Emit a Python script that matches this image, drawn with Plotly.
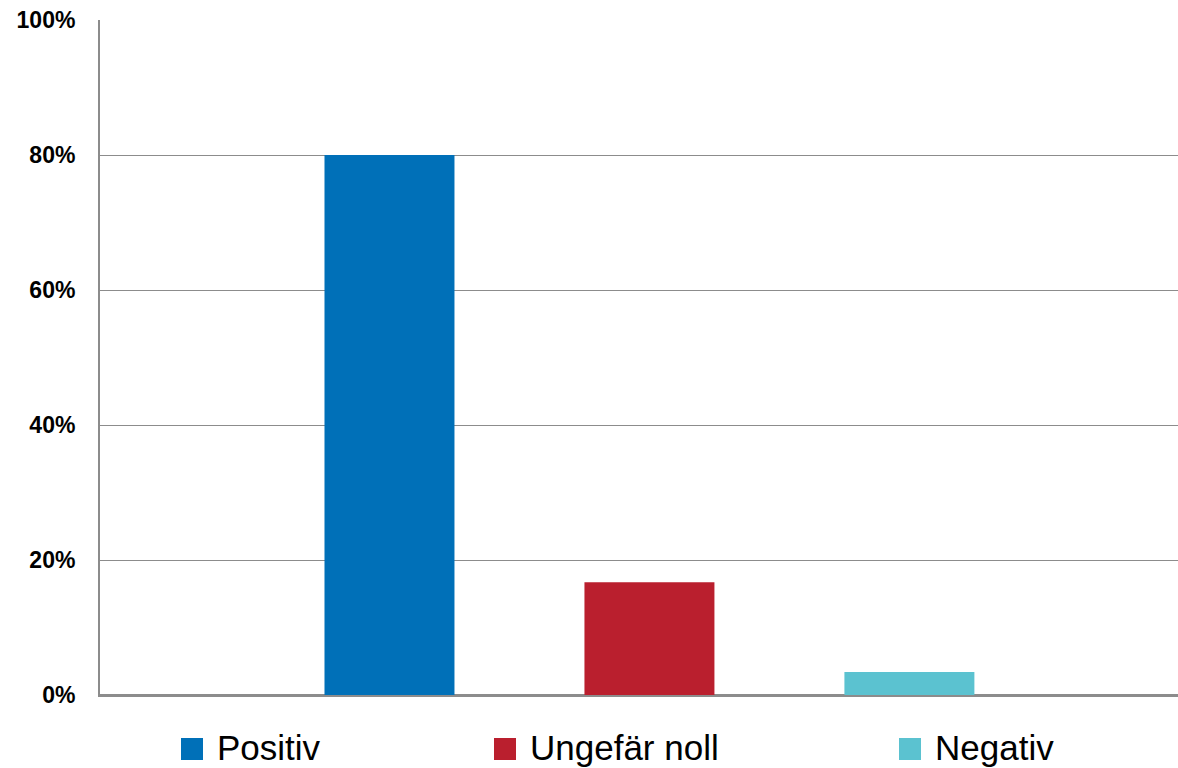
import plotly.graph_objects as go

# Share of responses per answer category (percent)
categories = ["Positiv", "Ungefär noll", "Negativ"]
values = [80.0, 16.7, 3.4]
colors = ["#0070B8", "#BA1F2E", "#5BC2D0"]
y_ticks = [0, 20, 40, 60, 80, 100]
y_tick_labels = [f"{v}%" for v in y_ticks]

# Horizontal legend layout: square left edge, text left edge (pixels from figure left)
legend_square_px = [181, 494, 899]
legend_text_px = [215, 528, 933]
legend_center_y_px = 749

W, H = 1178, 768
M_L, M_R, M_T, M_B = 100, 0, 20, 73
plot_w = W - M_L - M_R
plot_h = H - M_T - M_B
plot_bottom_px = H - M_B

fig = go.Figure()
for name, val, col in zip(categories, values, colors):
    fig.add_trace(go.Bar(
        x=[0], y=[val], name=name,
        marker=dict(color=col, line=dict(width=0)),
        showlegend=False,
    ))

# Legend drawn as coloured squares with labels below the plot area
legend_y = -(legend_center_y_px - plot_bottom_px) / plot_h
for name, col, sq, tx in zip(categories, colors, legend_square_px, legend_text_px):
    fig.add_shape(
        type="rect", xref="paper", yref="paper",
        xsizemode="pixel", ysizemode="pixel",
        xanchor=(sq - M_L) / plot_w, yanchor=legend_y,
        x0=0, x1=22, y0=-11, y1=11,
        fillcolor=col, line=dict(width=0),
    )
    fig.add_annotation(
        text=name, xref="paper", yref="paper",
        x=(tx - M_L) / plot_w, y=legend_y + 2 / plot_h,
        xanchor="left", yanchor="middle", showarrow=False,
        font=dict(family="Liberation Sans", size=35, color="#000000"),
    )

fig.update_layout(
    width=W, height=H,
    margin=dict(l=M_L, r=M_R, t=M_T, b=M_B),
    paper_bgcolor="white", plot_bgcolor="white",
    barmode="group", bargap=0.2903, bargroupgap=0.5,
    showlegend=False,
)
fig.update_xaxes(
    type="linear", range=[-0.5, 0.481],
    showticklabels=False, ticks="", showgrid=False, zeroline=False,
    showline=True, linecolor="#8C8C8C", linewidth=2,
)
fig.update_yaxes(
    range=[0, 100], tickmode="array", tickvals=y_ticks, ticktext=y_tick_labels,
    tickfont=dict(family="Liberation Sans", size=23, color="#000000", weight="bold"),
    ticks="outside", ticklen=18, tickcolor="rgba(0,0,0,0)",
    showgrid=True, gridcolor="#8C8C8C", gridwidth=1.3,
    zeroline=True, zerolinecolor="#8C8C8C", zerolinewidth=2,
    showline=True, linecolor="#8C8C8C", linewidth=2,
)

fig.write_html("out.html")
